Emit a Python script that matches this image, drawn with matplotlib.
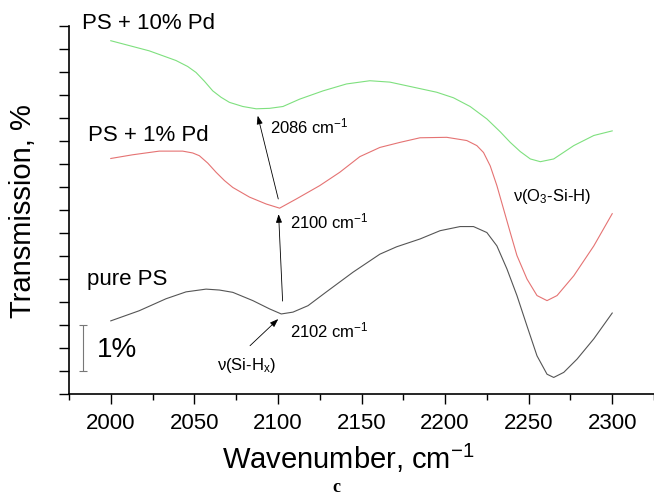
import matplotlib
matplotlib.use("Agg")
import matplotlib.pyplot as plt
from matplotlib.ticker import MultipleLocator

plt.rcParams['font.family'] = ['Liberation Sans', 'DejaVu Sans']
plt.rcParams['mathtext.fontset'] = 'custom'
plt.rcParams['mathtext.rm'] = 'Liberation Sans'
plt.rcParams['mathtext.it'] = 'Liberation Sans:italic'

# spectra (wavenumber, transmission in % with offsets)
wn_pure = [2000, 2017, 2033, 2045, 2057, 2065, 2073, 2085, 2095, 2102, 2109, 2118,
           2129, 2145, 2161, 2171, 2185, 2197, 2209, 2217, 2225, 2231, 2237, 2243,
           2249, 2255, 2261, 2265, 2271, 2279, 2289, 2300]
tr_pure = [1.59, 1.81, 2.07, 2.22, 2.28, 2.26, 2.21, 2.03, 1.85, 1.74, 1.78, 1.92,
           2.22, 2.65, 3.04, 3.20, 3.37, 3.55, 3.64, 3.64, 3.51, 3.22, 2.72, 2.14,
           1.48, 0.83, 0.43, 0.36, 0.47, 0.76, 1.20, 1.76]

wn_pd1 = [2000, 2013, 2029, 2043, 2049, 2053, 2058, 2063, 2068, 2073, 2083, 2093,
          2101, 2111, 2125, 2137, 2149, 2161, 2173, 2185, 2201, 2213, 2219, 2223,
          2227, 2231, 2235, 2239, 2243, 2249, 2255, 2261, 2267, 2277, 2289, 2300]
tr_pd1 = [5.12, 5.20, 5.28, 5.28, 5.24, 5.18, 5.02, 4.82, 4.64, 4.49, 4.28, 4.13,
          4.04, 4.24, 4.53, 4.82, 5.16, 5.36, 5.47, 5.57, 5.58, 5.51, 5.40, 5.25,
          4.96, 4.53, 4.02, 3.51, 3.01, 2.50, 2.14, 2.03, 2.14, 2.57, 3.22, 3.92]

wn_pd10 = [2000, 2023, 2039, 2046, 2051, 2056, 2061, 2066, 2071, 2079, 2087, 2095,
           2103, 2113, 2127, 2141, 2155, 2167, 2181, 2195, 2205, 2215, 2225, 2233,
           2239, 2245, 2251, 2257, 2265, 2277, 2289, 2300]
tr_pd10 = [7.68, 7.46, 7.25, 7.12, 6.99, 6.80, 6.59, 6.45, 6.34, 6.25, 6.20, 6.21,
           6.25, 6.41, 6.59, 6.74, 6.81, 6.78, 6.67, 6.56, 6.44, 6.25, 5.98, 5.70,
           5.47, 5.27, 5.11, 5.05, 5.11, 5.40, 5.62, 5.72]

series_names = ["pure PS", "PS + 1% Pd", "PS + 10% Pd"]
series_colors = ["#555555", "#e57373", "#7ee07e"]

# peak shift arrows: (x_from, y_from, x_to, y_to)
shift_arrows = [(2102.8, 2.02, 2100.4, 3.91),
                (2100.2, 4.24, 2087.9, 6.05),
                (2083.3, 1.05, 2100.2, 1.63)]
peak_labels = ["2086 cm$^{-1}$", "2100 cm$^{-1}$", "2102 cm$^{-1}$"]
peak_pos = [(2095.5, 5.83), (2107.0, 3.77), (2107.0, 1.41)]

# 1% scale bar
scale_x = 1983.4
scale_mid = 1.0
scale_half = 0.5

fig = plt.figure(figsize=(6.54, 5.02), dpi=100)
ax = fig.add_axes([69 / 654, 107 / 502, 585 / 654, 368 / 502])

for wn, tr, c in zip([wn_pure, wn_pd1, wn_pd10], [tr_pure, tr_pd1, tr_pd10], series_colors):
    ax.plot(wn, tr, color=c, lw=0.8)

ax.set_xlim(1975, 2325)
ax.set_ylim(0, 8)
ax.spines['top'].set_visible(False)
ax.spines['right'].set_visible(False)
ax.xaxis.set_major_locator(MultipleLocator(50))
ax.xaxis.set_minor_locator(MultipleLocator(25))
ax.yaxis.set_major_locator(MultipleLocator(0.5))
ax.set_yticklabels([])
ax.tick_params(axis='x', which='major', length=7, width=1, labelsize=16, pad=6)
ax.tick_params(axis='x', which='minor', length=4, width=1)
ax.tick_params(axis='y', length=7, width=1)
for s in ['left', 'bottom']:
    ax.spines[s].set_linewidth(1.2)

ax.set_xlabel("Wavenumber, cm$^{-1}$", fontsize=21)
ax.xaxis.set_label_coords(0.477, -0.128)
ax.set_ylabel("Transmission, %", fontsize=21)
ax.yaxis.set_label_coords(-0.055, 0.5)

# series names
name_pos = [(1985.7, 2.52), (1986.6, 5.65), (1982.7, 8.08)]
for name, (x, y) in zip(series_names, name_pos):
    ax.text(x, y, name, fontsize=16, va='center', ha='left', clip_on=False)

for x0, y0, x1, y1 in shift_arrows:
    ax.annotate("", xy=(x1, y1), xytext=(x0, y0),
                arrowprops=dict(arrowstyle="-|>,head_length=0.5,head_width=0.18",
                                color="black", lw=0.6, shrinkA=0, shrinkB=0))
for lab, (x, y) in zip(peak_labels, peak_pos):
    ax.text(x, y, lab, fontsize=12, va='center', ha='left')

ax.text(2063.4, 0.65, "ν(Si-H$_\\mathrm{x}$)", fontsize=12, va='center', ha='left')
ax.text(2240.6, 4.31, "ν(O$_\\mathrm{3}$-Si-H)", fontsize=12, va='center', ha='left')

ax.errorbar([scale_x], [scale_mid], yerr=[scale_half], color="#777777",
            capsize=3, elinewidth=0.8, capthick=0.8)
ax.text(1991.8, 0.98, "1%", fontsize=20, va='center', ha='left')

fig.text(336 / 654, 1 - 488 / 502, "c", fontsize=13, fontweight='bold',
         family='Liberation Serif', ha='center', va='center')

fig.savefig("out.png", dpi=100)
